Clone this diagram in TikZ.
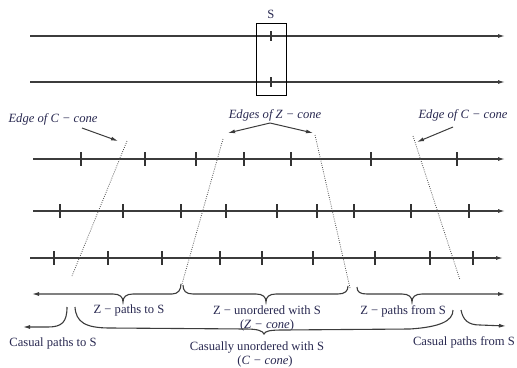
\documentclass[tikz,border=0pt]{standalone}
\usepackage{fontspec}
\setmainfont{Liberation Serif}
\usetikzlibrary{arrows.meta}
\definecolor{txt}{RGB}{40,40,80}
\definecolor{ln}{RGB}{60,60,60}
\tikzset{
  world/.style={->,line width=1.2pt,draw=ln},
  tick/.style={line width=1.1pt,draw=black!80},
  cone/.style={draw=black!70,line width=0.8pt,dash pattern=on 0.8pt off 1.4pt},
  lbl/.style={text=txt,font=\fontsize{12.6}{14}\selectfont,inner sep=0pt},
  pointer/.style={->,line width=1pt,draw=ln},
  brace/.style={line width=1.1pt,draw=ln}
}
\begin{document}
\begin{tikzpicture}[x=1pt,y=-1pt,>={Latex[length=7pt,width=4pt]}]
  \useasboundingbox (0,0) rectangle (517,367);
  % two paths through S
  \foreach \n/\y in {p/36,q/82} {
    \coordinate (\n0) at (30,\y); \coordinate (\n1) at (505,\y);
    \draw [world] (\n0) -- (\n1);
    \draw [tick] (271,\y-5) -- (271,\y+5);
  }
  \node [draw,line width=0.9pt,minimum width=30pt,minimum height=72pt] (box) at (271,59) {};
  \node [lbl,above=4pt] (S) at (box.north) {S};
  % three more paths with their events
  \foreach \n/\y/\xa/\xb in {a/159/33/505,b/211/33/505,c/258/30/503} {
    \coordinate (\n0) at (\xa,\y); \coordinate (\n1) at (\xb,\y);
    \draw [world] (\n0) -- (\n1);
  }
  \foreach \x in {81,145,196,244,291,371,457} \draw [tick] (\x,152) -- (\x,166);
  \foreach \x in {60,123,181,226,277,317,354,411,469} \draw [tick] (\x,204) -- (\x,218);
  \foreach \x in {54,108,162,220,262,313,375,430,473} \draw [tick] (\x,251) -- (\x,265);
  % cone edges
  \coordinate (lC1) at (127,141); \coordinate (lC2) at (72,276);
  \coordinate (lZ1) at (223,139); \coordinate (lZ2) at (182,284);
  \coordinate (rZ1) at (315,135); \coordinate (rZ2) at (350,288);
  \coordinate (rC1) at (413,136); \coordinate (rC2) at (460,280);
  \draw [cone] (lC1) -- (lC2);
  \draw [cone] (lZ1) -- (lZ2);
  \draw [cone] (rZ1) -- (rZ2);
  \draw [cone] (rC1) -- (rC2);
  \node [lbl] (lCt) at (53,119) {\itshape Edge of C − cone};
  \node [lbl] (Zt) at (275,115) {\itshape Edges of Z − cone};
  \node [lbl] (rCt) at (463,115) {\itshape Edge of C − cone};
  \draw [pointer] (82,128) -- (118,141);
  \draw [pointer] (270,123) -- (228,133);
  \draw [pointer] (270,123) -- (313,133);
  \draw [pointer] (453,127) -- (417,142);
  % first row of braces
  \draw [brace,->] (181,284) .. controls (181,290) and (178,294) .. (172,294) -- (133,294)
    .. controls (126,294) and (123,297) .. (123,302) .. controls (123,297) and (120,294) .. (113,294) -- (32,294);
  \draw [brace] (183,285) .. controls (183,291) and (186,294) .. (193,294) -- (256,294)
    .. controls (263,294) and (266,297) .. (266,302) .. controls (266,297) and (269,294) .. (276,294) -- (338,294)
    .. controls (345,294) and (348,291) .. (348,286);
  \draw [brace,->] (357,287) .. controls (357,292) and (360,294) .. (367,294) -- (402,294)
    .. controls (409,294) and (412,297) .. (412,302) .. controls (412,297) and (415,294) .. (422,294) -- (505,294);
  \node [lbl] (Zto) at (129,310) {Z − paths to S};
  \node [lbl] (Zun) at (267,310) {Z − unordered with S};
  \node [lbl,below=5pt] (Zcone) at (Zun.south) {(\textit{Z − cone})};
  \node [lbl] (Zfrom) at (403,311) {Z − paths from S};
  % second row of braces
  \draw [brace,->] (67,307) .. controls (67,322) and (62,327) .. (48,327) -- (23,327);
  \draw [brace] (75,307) .. controls (76,322) and (85,328) .. (110,328) -- (246,329)
    .. controls (258,329) and (263,331) .. (264,334) .. controls (265,331) and (270,330) .. (283,330) -- (410,329)
    .. controls (440,327) and (453,321) .. (453,310);
  \draw [brace,->] (461,310) .. controls (463,320) and (468,325) .. (480,325) -- (506,326);
  \node [lbl] (Cto) at (53,343) {Casual paths to S};
  \node [lbl] (Cun) at (257,347) {Casually unordered with S};
  \node [lbl,below=5pt] (Ccone) at (265,351) {(\textit{C − cone})};
  \node [lbl] (Cfrom) at (464,342) {Casual paths from S};
\end{tikzpicture}
\end{document}
